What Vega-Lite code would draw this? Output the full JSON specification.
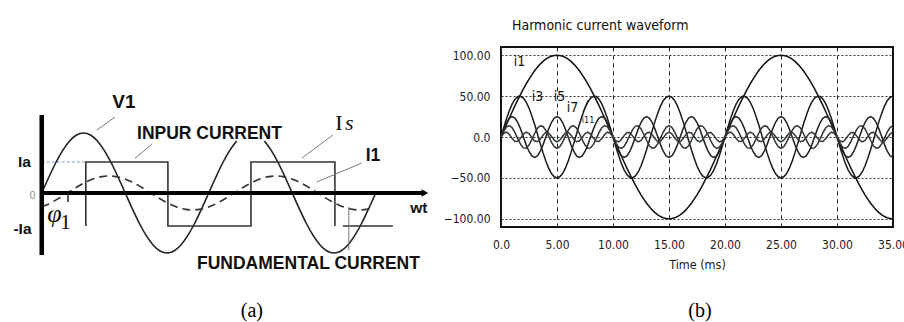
{
"$schema": "https://vega.github.io/schema/vega-lite/v6.json",
"background": "white",
"padding": {"left": 0, "top": 18, "right": 0, "bottom": 0},
"config": {"view": {"stroke": null}},
"spacing": 71,
"bounds": "flush",
"datasets": {
"v1": [
{"deg":0,"v":0,"seg":1},{"deg":15,"v":15.5,"seg":1},{"deg":30,"v":30,"seg":1},{"deg":45,"v":42.4,"seg":1},{"deg":60,"v":52,"seg":1},{"deg":75,"v":58,"seg":1},{"deg":90,"v":60,"seg":1},{"deg":105,"v":58,"seg":1},{"deg":120,"v":52,"seg":1},{"deg":135,"v":42.4,"seg":1},{"deg":150,"v":30,"seg":1},{"deg":165,"v":15.5,"seg":1},{"deg":180,"v":0,"seg":1},{"deg":195,"v":-15.5,"seg":1},{"deg":210,"v":-30,"seg":1},{"deg":225,"v":-42.4,"seg":1},{"deg":240,"v":-52,"seg":1},{"deg":255,"v":-58,"seg":1},{"deg":270,"v":-60,"seg":1},{"deg":285,"v":-58,"seg":1},{"deg":300,"v":-52,"seg":1},{"deg":315,"v":-42.4,"seg":1},{"deg":330,"v":-30,"seg":1},{"deg":345,"v":-15.5,"seg":1},{"deg":360,"v":0,"seg":1},{"deg":375,"v":15.5,"seg":1},{"deg":390,"v":30,"seg":1},{"deg":405,"v":42.4,"seg":1},{"deg":420,"v":52,"seg":1},
{"deg":480,"v":52,"seg":2},{"deg":495,"v":42.4,"seg":2},{"deg":510,"v":30,"seg":2},{"deg":525,"v":15.5,"seg":2},{"deg":540,"v":0,"seg":2},{"deg":555,"v":-15.5,"seg":2},{"deg":570,"v":-30,"seg":2},{"deg":585,"v":-42.4,"seg":2},{"deg":600,"v":-52,"seg":2},{"deg":615,"v":-58,"seg":2},{"deg":630,"v":-60,"seg":2},{"deg":645,"v":-58,"seg":2},{"deg":660,"v":-52,"seg":2},{"deg":675,"v":-42.4,"seg":2},{"deg":690,"v":-30,"seg":2},{"deg":705,"v":-15.5,"seg":2},{"deg":720,"v":0,"seg":2}
],
"fund": [
{"deg":0,"v":-13.9},{"deg":10,"v":-12},{"deg":25,"v":-8.5},{"deg":40,"v":-4.4},{"deg":55,"v":0},{"deg":70,"v":4.4},{"deg":85,"v":8.5},{"deg":100,"v":12},{"deg":115,"v":14.7},{"deg":130,"v":16.4},{"deg":145,"v":17},{"deg":160,"v":16.4},{"deg":175,"v":14.7},{"deg":190,"v":12},{"deg":205,"v":8.5},{"deg":220,"v":4.4},{"deg":235,"v":0},{"deg":250,"v":-4.4},{"deg":265,"v":-8.5},{"deg":280,"v":-12},{"deg":295,"v":-14.7},{"deg":310,"v":-16.4},{"deg":325,"v":-17},{"deg":340,"v":-16.4},{"deg":355,"v":-14.7},{"deg":370,"v":-12},{"deg":385,"v":-8.5},{"deg":400,"v":-4.4},{"deg":415,"v":0},{"deg":430,"v":4.4},{"deg":445,"v":8.5},{"deg":460,"v":12},{"deg":475,"v":14.7},{"deg":490,"v":16.4},{"deg":505,"v":17},{"deg":520,"v":16.4},{"deg":535,"v":14.7},{"deg":550,"v":12},{"deg":565,"v":8.5},{"deg":580,"v":4.4},{"deg":595,"v":0},{"deg":610,"v":-4.4},{"deg":625,"v":-8.5},{"deg":640,"v":-12},{"deg":655,"v":-14.7},{"deg":670,"v":-16.4},{"deg":685,"v":-17},{"deg":700,"v":-16.4},{"deg":710,"v":-15.4}
],
"square": [
{"o":1,"deg":95,"v":-33},{"o":2,"deg":95,"v":31},{"o":3,"deg":272,"v":31},{"o":4,"deg":272,"v":-33},{"o":5,"deg":451,"v":-33},{"o":6,"deg":451,"v":31},{"o":7,"deg":632,"v":31},{"o":8,"deg":632,"v":-33}
],
"axisV": [{"deg":0,"v":78,"deg2":0,"v2":-62}],
"axisH": [{"deg":0,"v":0,"deg2":826,"v2":0}],
"arrow": [{"deg":826,"v":0}],
"tick": [{"deg":56.6,"v":0,"deg2":56.6,"v2":-9}],
"dotted": [{"deg":0,"v":31,"deg2":95,"v2":31}],
"bracket": [{"deg":649,"v":-33,"deg2":757,"v2":-33}],
"ptr": [
{"deg":157.9,"v":76,"deg2":119.1,"v2":63},
{"deg":237,"v":48.7,"deg2":201,"v2":34.7},
{"deg":627.8,"v":58,"deg2":561,"v2":35},
{"deg":690,"v":30,"deg2":593,"v2":11},
{"deg":662,"v":-57,"deg2":662,"v2":-14}
],
"bigbold": [{"label":"V1","deg":177.3,"v":91.5}],
"bold16": [{"label":"INPUR CURRENT","deg":361.6,"v":59},{"label":"I1","deg":714,"v":37},{"label":"FUNDAMENTAL CURRENT","deg":575,"v":-71}],
"bold15": [{"label":"Ia","deg":-37.2,"v":31},{"label":"-Ia","deg":-41.5,"v":-36},{"label":"wt","deg":813,"v":-15}],
"zero": [{"label":"0","deg":-20,"v":-2.5}],
"serifUp": [{"label":"I","deg":640.8,"v":63},{"label":"1","deg":51,"v":-36}],
"serifIt": [{"label":"s","deg":663,"v":63}],
"phi": [{"label":"φ","deg":27.5,"v":-29}],
"capA": [{"label":"(a)","deg":453,"v":-118}],
"harm": [
{"t":0,"i1":0,"i3":0,"i5":0,"i7":0,"i11":0},
{"t":0.25,"i1":7.8,"i3":11.7,"i5":9.6,"i7":7.3,"i11":4.6},
{"t":0.5,"i1":15.6,"i3":22.7,"i5":17.7,"i7":12.5,"i11":5.9},
{"t":0.75,"i1":23.3,"i3":32.5,"i5":23.1,"i7":14,"i11":3.1},
{"t":1,"i1":30.9,"i3":40.5,"i5":25,"i7":11.3,"i11":-1.9},
{"t":1.25,"i1":38.3,"i3":46.2,"i5":23.1,"i7":5.4,"i11":-5.5},
{"t":1.5,"i1":45.4,"i3":49.4,"i5":17.7,"i7":-2.2,"i11":-5.3},
{"t":1.75,"i1":52.2,"i3":49.8,"i5":9.6,"i7":-9.1,"i11":-1.4},
{"t":2,"i1":58.8,"i3":47.6,"i5":0,"i7":-13.3,"i11":3.5},
{"t":2.25,"i1":64.9,"i3":42.6,"i5":-9.6,"i7":-13.6,"i11":6},
{"t":2.5,"i1":70.7,"i3":35.4,"i5":-17.7,"i7":-9.9,"i11":4.2},
{"t":2.75,"i1":76,"i3":26.1,"i5":-23.1,"i7":-3.3,"i11":-0.5},
{"t":3,"i1":80.9,"i3":15.5,"i5":-25,"i7":4.3,"i11":-4.9},
{"t":3.25,"i1":85.3,"i3":3.9,"i5":-23.1,"i7":10.6,"i11":-5.8},
{"t":3.5,"i1":89.1,"i3":-7.8,"i5":-17.7,"i7":13.8,"i11":-2.7},
{"t":3.75,"i1":92.4,"i3":-19.1,"i5":-9.6,"i7":12.9,"i11":2.3},
{"t":4,"i1":95.1,"i3":-29.4,"i5":0,"i7":8.2,"i11":5.7},
{"t":4.25,"i1":97.2,"i3":-38,"i5":9.6,"i7":1.1,"i11":5.1},
{"t":4.5,"i1":98.8,"i3":-44.6,"i5":17.7,"i7":-6.4,"i11":0.9},
{"t":4.75,"i1":99.7,"i3":-48.6,"i5":23.1,"i7":-11.9,"i11":-3.9},
{"t":5,"i1":100,"i3":-50,"i5":25,"i7":-14,"i11":-6},
{"t":5.25,"i1":99.7,"i3":-48.6,"i5":23.1,"i7":-11.9,"i11":-3.9},
{"t":5.5,"i1":98.8,"i3":-44.6,"i5":17.7,"i7":-6.4,"i11":0.9},
{"t":5.75,"i1":97.2,"i3":-38,"i5":9.6,"i7":1.1,"i11":5.1},
{"t":6,"i1":95.1,"i3":-29.4,"i5":0,"i7":8.2,"i11":5.7},
{"t":6.25,"i1":92.4,"i3":-19.1,"i5":-9.6,"i7":12.9,"i11":2.3},
{"t":6.5,"i1":89.1,"i3":-7.8,"i5":-17.7,"i7":13.8,"i11":-2.7},
{"t":6.75,"i1":85.3,"i3":3.9,"i5":-23.1,"i7":10.6,"i11":-5.8},
{"t":7,"i1":80.9,"i3":15.5,"i5":-25,"i7":4.3,"i11":-4.9},
{"t":7.25,"i1":76,"i3":26.1,"i5":-23.1,"i7":-3.3,"i11":-0.5},
{"t":7.5,"i1":70.7,"i3":35.4,"i5":-17.7,"i7":-9.9,"i11":4.2},
{"t":7.75,"i1":64.9,"i3":42.6,"i5":-9.6,"i7":-13.6,"i11":6},
{"t":8,"i1":58.8,"i3":47.6,"i5":0,"i7":-13.3,"i11":3.5},
{"t":8.25,"i1":52.2,"i3":49.8,"i5":9.6,"i7":-9.1,"i11":-1.4},
{"t":8.5,"i1":45.4,"i3":49.4,"i5":17.7,"i7":-2.2,"i11":-5.3},
{"t":8.75,"i1":38.3,"i3":46.2,"i5":23.1,"i7":5.4,"i11":-5.5},
{"t":9,"i1":30.9,"i3":40.5,"i5":25,"i7":11.3,"i11":-1.9},
{"t":9.25,"i1":23.3,"i3":32.5,"i5":23.1,"i7":14,"i11":3.1},
{"t":9.5,"i1":15.6,"i3":22.7,"i5":17.7,"i7":12.5,"i11":5.9},
{"t":9.75,"i1":7.8,"i3":11.7,"i5":9.6,"i7":7.3,"i11":4.6},
{"t":10,"i1":0,"i3":0,"i5":0,"i7":0,"i11":0},
{"t":10.25,"i1":-7.8,"i3":-11.7,"i5":-9.6,"i7":-7.3,"i11":-4.6},
{"t":10.5,"i1":-15.6,"i3":-22.7,"i5":-17.7,"i7":-12.5,"i11":-5.9},
{"t":10.75,"i1":-23.3,"i3":-32.5,"i5":-23.1,"i7":-14,"i11":-3.1},
{"t":11,"i1":-30.9,"i3":-40.5,"i5":-25,"i7":-11.3,"i11":1.9},
{"t":11.25,"i1":-38.3,"i3":-46.2,"i5":-23.1,"i7":-5.4,"i11":5.5},
{"t":11.5,"i1":-45.4,"i3":-49.4,"i5":-17.7,"i7":2.2,"i11":5.3},
{"t":11.75,"i1":-52.2,"i3":-49.8,"i5":-9.6,"i7":9.1,"i11":1.4},
{"t":12,"i1":-58.8,"i3":-47.6,"i5":0,"i7":13.3,"i11":-3.5},
{"t":12.25,"i1":-64.9,"i3":-42.6,"i5":9.6,"i7":13.6,"i11":-6},
{"t":12.5,"i1":-70.7,"i3":-35.4,"i5":17.7,"i7":9.9,"i11":-4.2},
{"t":12.75,"i1":-76,"i3":-26.1,"i5":23.1,"i7":3.3,"i11":0.5},
{"t":13,"i1":-80.9,"i3":-15.5,"i5":25,"i7":-4.3,"i11":4.9},
{"t":13.25,"i1":-85.3,"i3":-3.9,"i5":23.1,"i7":-10.6,"i11":5.8},
{"t":13.5,"i1":-89.1,"i3":7.8,"i5":17.7,"i7":-13.8,"i11":2.7},
{"t":13.75,"i1":-92.4,"i3":19.1,"i5":9.6,"i7":-12.9,"i11":-2.3},
{"t":14,"i1":-95.1,"i3":29.4,"i5":0,"i7":-8.2,"i11":-5.7},
{"t":14.25,"i1":-97.2,"i3":38,"i5":-9.6,"i7":-1.1,"i11":-5.1},
{"t":14.5,"i1":-98.8,"i3":44.6,"i5":-17.7,"i7":6.4,"i11":-0.9},
{"t":14.75,"i1":-99.7,"i3":48.6,"i5":-23.1,"i7":11.9,"i11":3.9},
{"t":15,"i1":-100,"i3":50,"i5":-25,"i7":14,"i11":6},
{"t":15.25,"i1":-99.7,"i3":48.6,"i5":-23.1,"i7":11.9,"i11":3.9},
{"t":15.5,"i1":-98.8,"i3":44.6,"i5":-17.7,"i7":6.4,"i11":-0.9},
{"t":15.75,"i1":-97.2,"i3":38,"i5":-9.6,"i7":-1.1,"i11":-5.1},
{"t":16,"i1":-95.1,"i3":29.4,"i5":0,"i7":-8.2,"i11":-5.7},
{"t":16.25,"i1":-92.4,"i3":19.1,"i5":9.6,"i7":-12.9,"i11":-2.3},
{"t":16.5,"i1":-89.1,"i3":7.8,"i5":17.7,"i7":-13.8,"i11":2.7},
{"t":16.75,"i1":-85.3,"i3":-3.9,"i5":23.1,"i7":-10.6,"i11":5.8},
{"t":17,"i1":-80.9,"i3":-15.5,"i5":25,"i7":-4.3,"i11":4.9},
{"t":17.25,"i1":-76,"i3":-26.1,"i5":23.1,"i7":3.3,"i11":0.5},
{"t":17.5,"i1":-70.7,"i3":-35.4,"i5":17.7,"i7":9.9,"i11":-4.2},
{"t":17.75,"i1":-64.9,"i3":-42.6,"i5":9.6,"i7":13.6,"i11":-6},
{"t":18,"i1":-58.8,"i3":-47.6,"i5":0,"i7":13.3,"i11":-3.5},
{"t":18.25,"i1":-52.2,"i3":-49.8,"i5":-9.6,"i7":9.1,"i11":1.4},
{"t":18.5,"i1":-45.4,"i3":-49.4,"i5":-17.7,"i7":2.2,"i11":5.3},
{"t":18.75,"i1":-38.3,"i3":-46.2,"i5":-23.1,"i7":-5.4,"i11":5.5},
{"t":19,"i1":-30.9,"i3":-40.5,"i5":-25,"i7":-11.3,"i11":1.9},
{"t":19.25,"i1":-23.3,"i3":-32.5,"i5":-23.1,"i7":-14,"i11":-3.1},
{"t":19.5,"i1":-15.6,"i3":-22.7,"i5":-17.7,"i7":-12.5,"i11":-5.9},
{"t":19.75,"i1":-7.8,"i3":-11.7,"i5":-9.6,"i7":-7.3,"i11":-4.6},
{"t":20,"i1":0,"i3":0,"i5":0,"i7":0,"i11":0},
{"t":20.25,"i1":7.8,"i3":11.7,"i5":9.6,"i7":7.3,"i11":4.6},
{"t":20.5,"i1":15.6,"i3":22.7,"i5":17.7,"i7":12.5,"i11":5.9},
{"t":20.75,"i1":23.3,"i3":32.5,"i5":23.1,"i7":14,"i11":3.1},
{"t":21,"i1":30.9,"i3":40.5,"i5":25,"i7":11.3,"i11":-1.9},
{"t":21.25,"i1":38.3,"i3":46.2,"i5":23.1,"i7":5.4,"i11":-5.5},
{"t":21.5,"i1":45.4,"i3":49.4,"i5":17.7,"i7":-2.2,"i11":-5.3},
{"t":21.75,"i1":52.2,"i3":49.8,"i5":9.6,"i7":-9.1,"i11":-1.4},
{"t":22,"i1":58.8,"i3":47.6,"i5":0,"i7":-13.3,"i11":3.5},
{"t":22.25,"i1":64.9,"i3":42.6,"i5":-9.6,"i7":-13.6,"i11":6},
{"t":22.5,"i1":70.7,"i3":35.4,"i5":-17.7,"i7":-9.9,"i11":4.2},
{"t":22.75,"i1":76,"i3":26.1,"i5":-23.1,"i7":-3.3,"i11":-0.5},
{"t":23,"i1":80.9,"i3":15.5,"i5":-25,"i7":4.3,"i11":-4.9},
{"t":23.25,"i1":85.3,"i3":3.9,"i5":-23.1,"i7":10.6,"i11":-5.8},
{"t":23.5,"i1":89.1,"i3":-7.8,"i5":-17.7,"i7":13.8,"i11":-2.7},
{"t":23.75,"i1":92.4,"i3":-19.1,"i5":-9.6,"i7":12.9,"i11":2.3},
{"t":24,"i1":95.1,"i3":-29.4,"i5":0,"i7":8.2,"i11":5.7},
{"t":24.25,"i1":97.2,"i3":-38,"i5":9.6,"i7":1.1,"i11":5.1},
{"t":24.5,"i1":98.8,"i3":-44.6,"i5":17.7,"i7":-6.4,"i11":0.9},
{"t":24.75,"i1":99.7,"i3":-48.6,"i5":23.1,"i7":-11.9,"i11":-3.9},
{"t":25,"i1":100,"i3":-50,"i5":25,"i7":-14,"i11":-6},
{"t":25.25,"i1":99.7,"i3":-48.6,"i5":23.1,"i7":-11.9,"i11":-3.9},
{"t":25.5,"i1":98.8,"i3":-44.6,"i5":17.7,"i7":-6.4,"i11":0.9},
{"t":25.75,"i1":97.2,"i3":-38,"i5":9.6,"i7":1.1,"i11":5.1},
{"t":26,"i1":95.1,"i3":-29.4,"i5":0,"i7":8.2,"i11":5.7},
{"t":26.25,"i1":92.4,"i3":-19.1,"i5":-9.6,"i7":12.9,"i11":2.3},
{"t":26.5,"i1":89.1,"i3":-7.8,"i5":-17.7,"i7":13.8,"i11":-2.7},
{"t":26.75,"i1":85.3,"i3":3.9,"i5":-23.1,"i7":10.6,"i11":-5.8},
{"t":27,"i1":80.9,"i3":15.5,"i5":-25,"i7":4.3,"i11":-4.9},
{"t":27.25,"i1":76,"i3":26.1,"i5":-23.1,"i7":-3.3,"i11":-0.5},
{"t":27.5,"i1":70.7,"i3":35.4,"i5":-17.7,"i7":-9.9,"i11":4.2},
{"t":27.75,"i1":64.9,"i3":42.6,"i5":-9.6,"i7":-13.6,"i11":6},
{"t":28,"i1":58.8,"i3":47.6,"i5":0,"i7":-13.3,"i11":3.5},
{"t":28.25,"i1":52.2,"i3":49.8,"i5":9.6,"i7":-9.1,"i11":-1.4},
{"t":28.5,"i1":45.4,"i3":49.4,"i5":17.7,"i7":-2.2,"i11":-5.3},
{"t":28.75,"i1":38.3,"i3":46.2,"i5":23.1,"i7":5.4,"i11":-5.5},
{"t":29,"i1":30.9,"i3":40.5,"i5":25,"i7":11.3,"i11":-1.9},
{"t":29.25,"i1":23.3,"i3":32.5,"i5":23.1,"i7":14,"i11":3.1},
{"t":29.5,"i1":15.6,"i3":22.7,"i5":17.7,"i7":12.5,"i11":5.9},
{"t":29.75,"i1":7.8,"i3":11.7,"i5":9.6,"i7":7.3,"i11":4.6},
{"t":30,"i1":0,"i3":0,"i5":0,"i7":0,"i11":0},
{"t":30.25,"i1":-7.8,"i3":-11.7,"i5":-9.6,"i7":-7.3,"i11":-4.6},
{"t":30.5,"i1":-15.6,"i3":-22.7,"i5":-17.7,"i7":-12.5,"i11":-5.9},
{"t":30.75,"i1":-23.3,"i3":-32.5,"i5":-23.1,"i7":-14,"i11":-3.1},
{"t":31,"i1":-30.9,"i3":-40.5,"i5":-25,"i7":-11.3,"i11":1.9},
{"t":31.25,"i1":-38.3,"i3":-46.2,"i5":-23.1,"i7":-5.4,"i11":5.5},
{"t":31.5,"i1":-45.4,"i3":-49.4,"i5":-17.7,"i7":2.2,"i11":5.3},
{"t":31.75,"i1":-52.2,"i3":-49.8,"i5":-9.6,"i7":9.1,"i11":1.4},
{"t":32,"i1":-58.8,"i3":-47.6,"i5":0,"i7":13.3,"i11":-3.5},
{"t":32.25,"i1":-64.9,"i3":-42.6,"i5":9.6,"i7":13.6,"i11":-6},
{"t":32.5,"i1":-70.7,"i3":-35.4,"i5":17.7,"i7":9.9,"i11":-4.2},
{"t":32.75,"i1":-76,"i3":-26.1,"i5":23.1,"i7":3.3,"i11":0.5},
{"t":33,"i1":-80.9,"i3":-15.5,"i5":25,"i7":-4.3,"i11":4.9},
{"t":33.25,"i1":-85.3,"i3":-3.9,"i5":23.1,"i7":-10.6,"i11":5.8},
{"t":33.5,"i1":-89.1,"i3":7.8,"i5":17.7,"i7":-13.8,"i11":2.7},
{"t":33.75,"i1":-92.4,"i3":19.1,"i5":9.6,"i7":-12.9,"i11":-2.3},
{"t":34,"i1":-95.1,"i3":29.4,"i5":0,"i7":-8.2,"i11":-5.7},
{"t":34.25,"i1":-97.2,"i3":38,"i5":-9.6,"i7":-1.1,"i11":-5.1},
{"t":34.5,"i1":-98.8,"i3":44.6,"i5":-17.7,"i7":6.4,"i11":-0.9},
{"t":34.75,"i1":-99.7,"i3":48.6,"i5":-23.1,"i7":11.9,"i11":3.9},
{"t":35,"i1":-100,"i3":50,"i5":-25,"i7":14,"i11":6}
],
"hlab": [{"label":"i1","t":1.65,"value":92},{"label":"i3","t":3.26,"value":49.5},{"label":"i5","t":5.22,"value":49},{"label":"i7","t":6.38,"value":35}],
"hlab11": [{"label":"i11","t":7.77,"value":21}],
"hptr": [{"t":7.32,"value":30.5,"t2":7.77,"value2":45}],
"capB": [{"label":"(b)","t":17.77,"value":-212.7}]
},
"hconcat": [
{
"width": 430,
"height": 275,
"encoding": {
"x": {"field": "deg", "type": "quantitative", "scale": {"domain": [-90, 837], "nice": false, "zero": false}, "axis": null},
"y": {"field": "v", "type": "quantitative", "scale": {"domain": [-129, 146], "nice": false, "zero": false}, "axis": null}
},
"layer": [
{"data": {"name": "dotted"}, "mark": {"type": "rule", "color": "#7f9cc4", "strokeWidth": 1, "strokeDash": [3, 2]}, "encoding": {"x2": {"field": "deg2"}, "y2": {"field": "v2"}}},
{"data": {"name": "v1"}, "mark": {"type": "line", "color": "#222", "strokeWidth": 1.6, "interpolate": "monotone"}, "encoding": {"detail": {"field": "seg", "type": "nominal"}}},
{"data": {"name": "square"}, "mark": {"type": "line", "color": "#333", "strokeWidth": 1.6}, "encoding": {"order": {"field": "o", "type": "quantitative"}}},
{"data": {"name": "fund"}, "mark": {"type": "line", "color": "#333", "strokeWidth": 1.6, "strokeDash": [8, 5], "interpolate": "monotone"}, "encoding": {}},
{"data": {"name": "bracket"}, "mark": {"type": "rule", "color": "#333", "strokeWidth": 1.5}, "encoding": {"x2": {"field": "deg2"}, "y2": {"field": "v2"}}},
{"data": {"name": "ptr"}, "mark": {"type": "rule", "color": "#777", "strokeWidth": 1}, "encoding": {"x2": {"field": "deg2"}, "y2": {"field": "v2"}}},
{"data": {"name": "axisV"}, "mark": {"type": "rule", "color": "#000", "strokeWidth": 4.5}, "encoding": {"x2": {"field": "deg2"}, "y2": {"field": "v2"}}},
{"data": {"name": "axisH"}, "mark": {"type": "rule", "color": "#000", "strokeWidth": 4}, "encoding": {"x2": {"field": "deg2"}, "y2": {"field": "v2"}}},
{"data": {"name": "arrow"}, "mark": {"type": "point", "shape": "triangle-right", "filled": true, "color": "#000", "size": 60, "opacity": 1}},
{"data": {"name": "tick"}, "mark": {"type": "rule", "color": "#222", "strokeWidth": 1.5}, "encoding": {"x2": {"field": "deg2"}, "y2": {"field": "v2"}}},
{"data": {"name": "bigbold"}, "mark": {"type": "text", "font": "Liberation Sans", "fontWeight": "bold", "fontSize": 19, "color": "#111", "baseline": "middle"}, "encoding": {"text": {"field": "label"}}},
{"data": {"name": "bold16"}, "mark": {"type": "text", "font": "Liberation Sans", "fontWeight": "bold", "fontSize": 17.5, "color": "#111", "baseline": "middle"}, "encoding": {"text": {"field": "label"}}},
{"data": {"name": "bold15"}, "mark": {"type": "text", "font": "Liberation Sans", "fontWeight": "bold", "fontSize": 15.5, "color": "#111", "baseline": "middle"}, "encoding": {"text": {"field": "label"}}},
{"data": {"name": "zero"}, "mark": {"type": "text", "font": "Liberation Sans", "fontSize": 10, "color": "#888", "baseline": "middle"}, "encoding": {"text": {"field": "label"}}},
{"data": {"name": "serifUp"}, "mark": {"type": "text", "font": "Liberation Serif", "fontSize": 22, "color": "#111", "baseline": "alphabetic"}, "encoding": {"text": {"field": "label"}}},
{"data": {"name": "serifIt"}, "mark": {"type": "text", "font": "Liberation Serif", "fontStyle": "italic", "fontSize": 22, "color": "#111", "baseline": "alphabetic"}, "encoding": {"text": {"field": "label"}}},
{"data": {"name": "phi"}, "mark": {"type": "text", "font": "Liberation Serif", "fontStyle": "italic", "fontSize": 26, "color": "#111", "baseline": "alphabetic"}, "encoding": {"text": {"field": "label"}}},
{"data": {"name": "capA"}, "mark": {"type": "text", "font": "Liberation Serif", "fontSize": 20, "color": "#000", "baseline": "middle"}, "encoding": {"text": {"field": "label"}}}
]
},
{
"width": 392,
"height": 180,
"view": {"stroke": "#111", "strokeWidth": 2},
"title": {"text": "Harmonic current waveform", "anchor": "start", "frame": "group", "dx": 11, "font": "DejaVu Sans Condensed, Liberation Sans Narrow, Liberation Sans, sans-serif", "fontSize": 14, "fontWeight": "normal", "color": "#111", "offset": 14},
"encoding": {
"x": {"field": "t", "type": "quantitative", "scale": {"domain": [0, 35], "nice": false, "zero": false},
 "axis": {"values": [0, 5, 10, 15, 20, 25, 30, 35], "labelExpr": "datum.value == 0 ? '0.0' : format(datum.value, '.2f')", "grid": true, "gridDash": [4, 4], "gridColor": "#222", "gridWidth": 1, "ticks": false, "domain": false, "labelFont": "DejaVu Sans Condensed, Liberation Sans Narrow, Liberation Sans, sans-serif", "labelFontSize": 12, "labelColor": "#222", "labelPadding": 12, "labelFlush": false, "labelOverlap": false, "title": "Time (ms)", "titleFont": "DejaVu Sans Condensed, Liberation Sans Narrow, Liberation Sans, sans-serif", "titleFontSize": 12.5, "titleFontWeight": "normal", "titleColor": "#222", "titlePadding": 8}},
"y": {"field": "value", "type": "quantitative", "scale": {"domain": [-110, 110], "nice": false, "zero": false},
 "axis": {"values": [-100, -50, 0, 50, 100], "labelExpr": "datum.value == 0 ? '0.0' : format(datum.value, '.2f')", "grid": true, "gridDash": [2, 2], "gridColor": "#333", "gridWidth": 1.2, "ticks": false, "domain": false, "labelFont": "DejaVu Sans Condensed, Liberation Sans Narrow, Liberation Sans, sans-serif", "labelFontSize": 12, "labelColor": "#222", "labelPadding": 11, "labelOverlap": false, "title": null}}
},
"layer": [
{"data": {"name": "harm"}, "transform": [{"fold": ["i1", "i3", "i5", "i7", "i11"], "as": ["series", "value"]}], "mark": {"type": "line", "strokeWidth": 1.5}, "encoding": {"color": {"field": "series", "type": "nominal", "scale": {"range": ["#111", "#2d3a2d", "#1a1a1a", "#222", "#333"]}, "legend": null}}},
{"data": {"name": "hptr"}, "mark": {"type": "rule", "color": "#222", "strokeWidth": 1}, "encoding": {"x2": {"field": "t2"}, "y2": {"field": "value2"}}},
{"data": {"name": "hlab"}, "mark": {"type": "text", "font": "DejaVu Sans Condensed, Liberation Sans Narrow, Liberation Sans, sans-serif", "fontSize": 14, "color": "#111", "baseline": "middle"}, "encoding": {"text": {"field": "label"}}},
{"data": {"name": "hlab11"}, "mark": {"type": "text", "font": "DejaVu Sans Condensed, Liberation Sans Narrow, Liberation Sans, sans-serif", "fontSize": 9, "color": "#222", "baseline": "middle"}, "encoding": {"text": {"field": "label"}}},
{"data": {"name": "capB"}, "mark": {"type": "text", "font": "Liberation Serif", "fontSize": 20, "color": "#000", "baseline": "middle"}, "encoding": {"text": {"field": "label"}}}
]
}
]
}
